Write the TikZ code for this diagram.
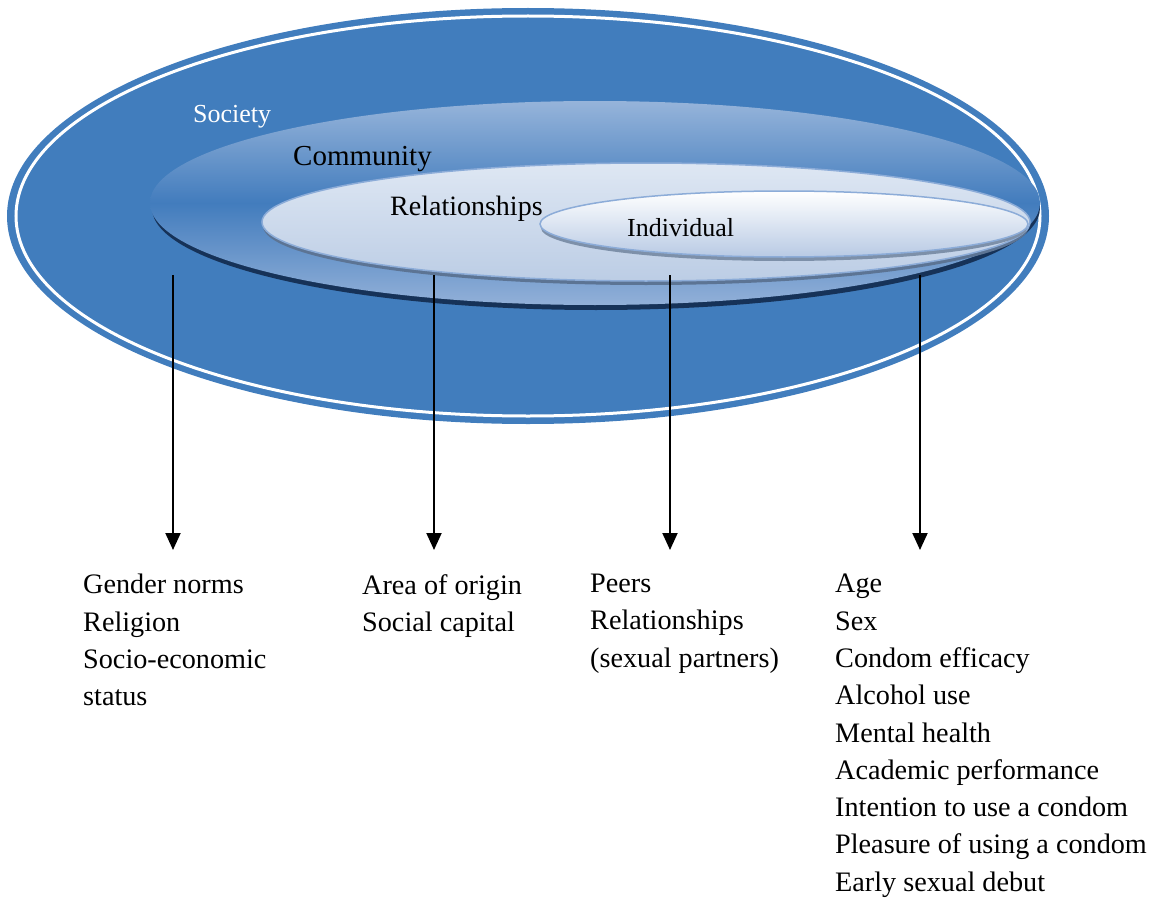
\documentclass[tikz,border=0pt]{standalone}
\usepackage{fontspec}
\setmainfont{Liberation Serif}
\usetikzlibrary{arrows.meta}
\definecolor{outerblue}{RGB}{65,125,189}
\definecolor{navyrim}{RGB}{22,50,88}
\definecolor{comtop}{RGB}{150,180,218}
\definecolor{commid}{RGB}{66,124,189}
\definecolor{combot}{RGB}{146,176,216}
\definecolor{reltop}{RGB}{222,231,243}
\definecolor{relbot}{RGB}{188,205,229}
\definecolor{ringblue}{RGB}{140,172,216}
\definecolor{grayrim}{RGB}{92,116,148}
\definecolor{indtop}{RGB}{255,255,255}
\definecolor{indbot}{RGB}{184,202,228}
\begin{document}
\begin{tikzpicture}[x=1pt,y=-1pt,
  lbl/.style={inner sep=0pt,anchor=base west,font=\fontsize{28}{34}\selectfont},
  lst/.style={inner sep=0pt,anchor=north west,align=left,font=\fontsize{28.2}{37.3}\selectfont},
  arr/.style={line width=2pt,-{Triangle[width=15pt,length=17pt]}}]
\useasboundingbox (0,0) rectangle (1163,899);
% outer society ellipse
\fill[outerblue] (528,216) ellipse [x radius=521, y radius=208];
\draw[white,line width=3pt] (528,216) ellipse [x radius=512, y radius=200];
% community
\fill[navyrim] (596,208) ellipse [x radius=444, y radius=102];
\shade[top color=comtop, bottom color=combot, middle color=commid]
  (595,203) ellipse [x radius=445, y radius=102];
% relationships
\fill[grayrim] (646,226) ellipse [x radius=383, y radius=59];
\shade[top color=reltop, bottom color=relbot, draw=ringblue, line width=1.5pt]
  (646,222) ellipse [x radius=384, y radius=59];
% individual
\fill[grayrim!80!white] (784,228) ellipse [x radius=243, y radius=33];
\shade[top color=indtop, bottom color=indbot, draw=ringblue, line width=1.5pt]
  (784,224) ellipse [x radius=244, y radius=33];
% labels
\node[lbl,text=white,font=\fontsize{26}{30}\selectfont] (society) at (193,122) {Society};
\node[lbl,font=\fontsize{29}{34}\selectfont] (community) at (293,165) {Community};
\node[lbl] (relationships) at (390,215) {Relationships};
\node[lbl,font=\fontsize{26}{30}\selectfont] (individual) at (627,236) {Individual};
% arrow ends
\coordinate (s1) at (173,275); \coordinate (e1) at (173,550);
\coordinate (s2) at (434,275); \coordinate (e2) at (434,550);
\coordinate (s3) at (670,275); \coordinate (e3) at (670,550);
\coordinate (s4) at (920,275); \coordinate (e4) at (920,550);
\draw[arr] (s1) -- (e1);
\draw[arr] (s2) -- (e2);
\draw[arr] (s3) -- (e3);
\draw[arr] (s4) -- (e4);
% lists
\node[lst] (list1) at (83,574) {Gender norms\\Religion\\Socio-economic\\status};
\node[lst] (list2) at (362,574) {Area of origin\\Social capital};
\node[lst] (list3) at (590,574) {Peers\\Relationships\\(sexual partners)};
\node[lst] (list4) at (835,574) {Age\\Sex\\Condom efficacy\\Alcohol use\\Mental health\\Academic performance\\Intention to use a condom\\Pleasure of using a condom\\Early sexual debut};
\end{tikzpicture}
\end{document}
